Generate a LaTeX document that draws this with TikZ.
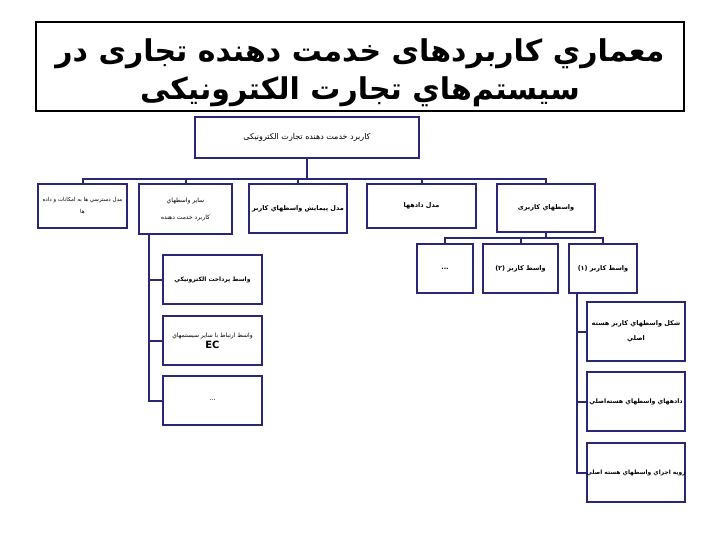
\documentclass[tikz,border=0pt]{standalone}
\usepackage{fontspec}
\TeXXeTstate=1
\newfontfamily\arabicfont[Script=Arabic]{DejaVu Sans}
\newcommand\RL[1]{\beginR #1\endR}
\definecolor{navy}{RGB}{40,40,118}
\begin{document}
\begin{tikzpicture}[x=1pt,y=-1pt,
  box/.style={draw=navy,line width=2pt,fill=white,inner ysep=1pt,inner xsep=-20pt,align=center,
    font=\arabicfont\fontsize{6.5}{12}\selectfont},
  bbox/.style={box,font=\arabicfont\bfseries\fontsize{6.5}{12}\selectfont},
  conn/.style={draw=navy,line width=2pt},
  titlebox/.style={draw=black,line width=1.5pt,inner sep=0pt},
  titletext/.style={anchor=base,inner sep=0pt,font=\arabicfont\bfseries\fontsize{30}{38}\selectfont}]
\useasboundingbox (0,0) rectangle (720,540);
% title
\node[titlebox,minimum width=648pt,minimum height=89pt] (title) at (360,66.5) {};
\node[titletext] (t1) at (360,62) {\RL{معماري کاربردهای خدمت دهنده تجاری در}};
\node[titletext] (t2) at (360,100) {\RL{سیستم‌هاي تجارت الکترونیکی}};
% root
\node[box,minimum width=224pt,minimum height=41pt,font=\arabicfont\fontsize{8}{12}\selectfont] (root) at (307,137.5)
  {\RL{کاربرد خدمت دهنده تجارت الکترونیکی}};
% level 1
\node[box,minimum width=89pt,minimum height=44pt,font=\arabicfont\fontsize{5.5}{12}\selectfont] (A) at (82.5,206)
  {\RL{مدل دسترسي ها به امکانات و داده}\\\RL{ها}};
\node[box,minimum width=93pt,minimum height=50pt,font=\arabicfont\fontsize{6}{17}\selectfont] (B) at (185.5,209)
  {\RL{ساير واسطهاي}\\\RL{کاربرد خدمت دهنده}};
\node[bbox,minimum width=98pt,minimum height=49pt] (C) at (298,208.5)
  {\RL{مدل پيمايش واسطهاي کاربر}};
\node[bbox,minimum width=109pt,minimum height=44pt] (D) at (421.5,206)
  {\RL{مدل دادهها}};
\node[bbox,minimum width=98pt,minimum height=48pt] (E) at (546,208)
  {\RL{واسطهاي کاربری}};
% level 2 under E
\node[bbox,minimum width=56pt,minimum height=49pt] (E3) at (445,268.5) {...};
\node[bbox,minimum width=75pt,minimum height=49pt] (E2) at (520.5,268.5)
  {\RL{واسط کاربر (۲)}};
\node[bbox,minimum width=68pt,minimum height=49pt] (E1) at (603,268.5)
  {\RL{واسط کاربر (۱)}};
% children of E1
\node[bbox,minimum width=98pt,minimum height=59pt,font=\arabicfont\bfseries\fontsize{6.5}{15}\selectfont] (F1) at (636,331.5)
  {\RL{شکل واسطهاي کاربر هسته}\\\RL{اصلي}};
\node[bbox,minimum width=98pt,minimum height=59pt,font=\arabicfont\bfseries\fontsize{6.2}{12}\selectfont] (F2) at (636,401.5)
  {\RL{دادههاي واسطهاي هسته‌اصلي}};
\node[bbox,minimum width=98pt,minimum height=59pt,font=\arabicfont\bfseries\fontsize{5.9}{12}\selectfont] (F3) at (636,472.5)
  {\RL{رويه اجراي واسطهاي هسته اصلي}};
% children of B
\node[bbox,minimum width=99pt,minimum height=49pt,font=\arabicfont\bfseries\fontsize{6}{12}\selectfont] (G1) at (212.5,279.5)
  {\RL{واسط پرداخت الکترونيکي}};
\node[box,minimum width=99pt,minimum height=49pt,font=\arabicfont\fontsize{6}{11}\selectfont] (G2) at (212.5,340.5)
  {\RL{واسط ارتباط با ساير سيستمهاي}\\{\bfseries\fontsize{10}{11}\selectfont EC}};
\node[box,minimum width=99pt,minimum height=49pt] (G3) at (212.5,400.5) {...};
% connectors level 1
\coordinate (b1) at (307,179);
\draw[conn] (root.south) -- (b1);
\draw[conn] (A.north) |- (b1) -| (E.north);
\draw[conn] (b1 -| B.north) -- (B.north);
\draw[conn] (b1 -| C.north) -- (C.north);
\draw[conn] (b1 -| D.north) -- (D.north);
% connectors under E
\coordinate (b2) at (546,238);
\draw[conn] (E.south) -- (b2);
\draw[conn] (E3.north) |- (b2) -| (E1.north);
\draw[conn] (b2 -| E2.north) -- (E2.north);
% side connectors E1
\coordinate (s1) at (577,293);
\draw[conn] (s1) |- (F3.west);
\draw[conn] (s1 |- F1.west) -- (F1.west);
\draw[conn] (s1 |- F2.west) -- (F2.west);
% side connectors B
\coordinate (s2) at (149,234);
\draw[conn] (s2) |- (G3.west);
\draw[conn] (s2 |- G1.west) -- (G1.west);
\draw[conn] (s2 |- G2.west) -- (G2.west);
\end{tikzpicture}
\end{document}
